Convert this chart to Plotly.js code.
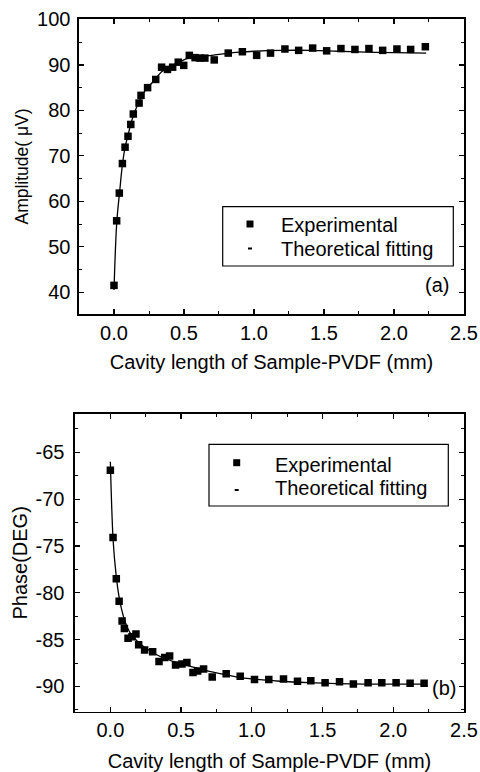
<!DOCTYPE html>
<html><head><meta charset="utf-8">
<script src="https://cdn.plot.ly/plotly-3.0.1.min.js"></script>
<style>html,body{margin:0;padding:0;background:#fff}</style>
</head><body><div id="chart" style="width:480px;height:772px"></div>
<script>
// ---- Panel (a): Amplitude ----
const ampX = [0.0, 0.019, 0.038, 0.06, 0.079, 0.1, 0.12, 0.138, 0.179, 0.193, 0.24, 0.298, 0.34, 0.382, 0.419, 0.459, 0.498, 0.538, 0.579, 0.614, 0.649, 0.716, 0.816, 0.917, 1.019, 1.118, 1.221, 1.319, 1.419, 1.519, 1.621, 1.721, 1.821, 1.919, 2.021, 2.119, 2.224];
const ampY = [41.5, 55.7, 61.8, 68.3, 71.9, 74.3, 76.9, 79.2, 81.6, 83.3, 85.0, 86.8, 89.5, 89.0, 89.5, 90.6, 89.9, 92.1, 91.6, 91.5, 91.5, 91.1, 92.6, 92.9, 92.1, 92.6, 93.5, 93.2, 93.7, 93.1, 93.6, 93.4, 93.6, 93.2, 93.5, 93.4, 94.0];
const ampFitX = [0.0, 0.02, 0.04, 0.06, 0.08, 0.1, 0.12, 0.14, 0.18, 0.2, 0.24, 0.3, 0.34, 0.4, 0.46, 0.52, 0.6, 0.7, 0.8, 0.9, 1.0, 1.2, 1.4, 1.6, 1.8, 2.0, 2.23];
const ampFitY = [40.5, 55.5, 62.0, 68.0, 72.0, 74.5, 77.0, 79.0, 82.0, 83.3, 85.0, 87.0, 88.5, 89.6, 90.5, 91.4, 91.8, 92.1, 92.5, 92.8, 93.0, 93.2, 93.2, 93.0, 92.8, 92.7, 92.6];

// ---- Panel (b): Phase ----
const phX = [0.0, 0.019, 0.042, 0.062, 0.083, 0.099, 0.125, 0.153, 0.181, 0.2, 0.242, 0.299, 0.344, 0.384, 0.419, 0.461, 0.506, 0.541, 0.584, 0.617, 0.659, 0.72, 0.819, 0.918, 1.019, 1.12, 1.224, 1.323, 1.417, 1.518, 1.62, 1.718, 1.822, 1.919, 2.02, 2.119, 2.218];
const phY = [-66.9, -74.1, -78.5, -80.9, -83.0, -83.8, -84.85, -84.7, -84.4, -85.55, -86.1, -86.3, -87.35, -86.9, -86.75, -87.7, -87.6, -87.45, -88.5, -88.35, -88.15, -89.0, -88.65, -88.9, -89.25, -89.25, -89.2, -89.45, -89.4, -89.6, -89.5, -89.75, -89.6, -89.6, -89.6, -89.65, -89.65];
const phFitX = [0.0, 0.02, 0.04, 0.06, 0.08, 0.1, 0.12, 0.15, 0.2, 0.25, 0.3, 0.4, 0.5, 0.6, 0.7, 0.8, 0.9, 1.0, 1.2, 1.4, 1.6, 1.8, 2.0, 2.23];
const phFitY = [-66.0, -74.5, -78.0, -80.3, -81.8, -82.9, -83.7, -84.5, -85.3, -85.9, -86.4, -87.1, -87.6, -88.0, -88.4, -88.7, -89.0, -89.2, -89.45, -89.6, -89.7, -89.75, -89.75, -89.75];

const xTicks = [0, 0.5, 1.0, 1.5, 2.0, 2.5];
const xTickText = ['0.0', '0.5', '1.0', '1.5', '2.0', '2.5'];
const ampTicks = [40, 50, 60, 70, 80, 90, 100];
const ampTickText = ['40', '50', '60', '70', '80', '90', '100'];
const phTicks = [-90, -85, -80, -75, -70, -65];
const phTickText = ['-90', '-85', '-80', '-75', '-70', '-65'];

const legendNames = ['Experimental', 'Theoretical fitting'];
const xTitle = 'Cavity length of Sample-PVDF (mm)';

const FONT = 'Liberation Sans, Arial, Helvetica, sans-serif';
const W = 480, H = 772;
const px = v => v / W;
const py = v => 1 - v / H;

function xax(dom, anchor, standoff) {
  return {
    domain: dom, anchor: anchor, range: [-0.25, 2.5001],
    tickmode: 'array', tickvals: xTicks, ticktext: xTickText,
    ticks: 'inside', ticklen: 5, tickwidth: 1.3, tickcolor: '#000',
    minor: {ticks: 'inside', tickvals: [0.25, 0.75, 1.25, 1.75, 2.25], ticklen: 3, tickwidth: 1, tickcolor: '#000'},
    showline: true, linecolor: '#000', linewidth: 1.6, mirror: 'allticks',
    showgrid: false, zeroline: false,
    tickfont: {family: FONT, size: 20, color: '#000'},
    title: {text: xTitle, font: {family: FONT, size: 20, color: '#000'}, standoff: standoff}
  };
}
function yax(dom, anchor, rng, tv, tt, minorTv, title, tsize, lstand, tstand) {
  return {
    domain: dom, anchor: anchor, range: rng,
    tickmode: 'array', tickvals: tv, ticktext: tt,
    ticks: 'inside', ticklen: 5, tickwidth: 1.3, tickcolor: '#000',
    minor: {ticks: 'inside', tickvals: minorTv, ticklen: 3, tickwidth: 1, tickcolor: '#000'},
    showline: true, linecolor: '#000', linewidth: 1.6, mirror: 'allticks',
    showgrid: false, zeroline: false, ticklabelstandoff: lstand,
    tickfont: {family: FONT, size: 20, color: '#000'},
    title: {text: title, font: {family: FONT, size: tsize, color: '#000'}, standoff: tstand}
  };
}

const traces = [
  {x: ampFitX, y: ampFitY, xaxis: 'x', yaxis: 'y', mode: 'lines', line: {color: '#000', width: 1.3, shape: 'spline'}, name: legendNames[1], showlegend: false},
  {x: ampX, y: ampY, xaxis: 'x', yaxis: 'y', mode: 'markers', marker: {symbol: 'square', size: 7.5, color: '#000'}, name: legendNames[0], showlegend: false},
  {x: phFitX, y: phFitY, xaxis: 'x2', yaxis: 'y2', mode: 'lines', line: {color: '#000', width: 1.3, shape: 'spline'}, name: legendNames[1], showlegend: false},
  {x: phX, y: phY, xaxis: 'x2', yaxis: 'y2', mode: 'markers', marker: {symbol: 'square', size: 7.5, color: '#000'}, name: legendNames[0], showlegend: false}
];

const ann = (x, y, text, size, xanchor) => ({xref: 'paper', yref: 'paper', x: px(x), y: py(y), text: text, showarrow: false, xanchor: xanchor || 'left', yanchor: 'middle', font: {family: FONT, size: size, color: '#000'}});

const layout = {
  width: W, height: H, margin: {l: 0, r: 0, t: 0, b: 0},
  paper_bgcolor: '#fff', plot_bgcolor: '#fff', showlegend: false,
  xaxis: xax([px(79), px(464)], 'y', 12),
  yaxis: yax([py(314), py(19)], 'x', [35.2, 100.1], ampTicks, ampTickText, [45, 55, 65, 75, 85, 95], 'Amplitude( \u03bcV)', 17.5, 3, 4),
  xaxis2: xax([px(75), px(464)], 'y2', 16),
  yaxis2: yax([py(711.7), py(414)], 'x2', [-92.7, -60.9], phTicks, phTickText, [-92.5, -87.5, -82.5, -77.5, -72.5, -67.5, -62.5], 'Phase(DEG)', 20, 5, 2),
  shapes: [
    {type: 'rect', xref: 'paper', yref: 'paper', x0: px(222.7), x1: px(453.3), y0: py(266), y1: py(206.7), line: {color: '#000', width: 1.2}},
    {type: 'rect', xref: 'paper', yref: 'paper', x0: px(246.5), x1: px(253.5), y0: py(227.5), y1: py(220.5), line: {width: 0}, fillcolor: '#000'},
    {type: 'line', xref: 'paper', yref: 'paper', x0: px(248), x1: px(252), y0: py(248.5), y1: py(248.5), line: {color: '#000', width: 2}},
    {type: 'rect', xref: 'paper', yref: 'paper', x0: px(209), x1: px(448.3), y0: py(506), y1: py(444.3), line: {color: '#000', width: 1.2}},
    {type: 'rect', xref: 'paper', yref: 'paper', x0: px(233.2), x1: px(240.2), y0: py(466.2), y1: py(459.2), line: {width: 0}, fillcolor: '#000'},
    {type: 'line', xref: 'paper', yref: 'paper', x0: px(234.7), x1: px(238.7), y0: py(490), y1: py(490), line: {color: '#000', width: 2}}
  ],
  annotations: [
    ann(279, 225, legendNames[0], 20),
    ann(279, 249, legendNames[1], 20),
    ann(451, 285, '(a)', 20, 'right'),
    ann(273, 465, legendNames[0], 20),
    ann(273, 488, legendNames[1], 20),
    ann(458, 688, '(b)', 20, 'right')
  ]
};

Plotly.newPlot('chart', traces, layout, {staticPlot: true, displayModeBar: false});
</script></body></html>
